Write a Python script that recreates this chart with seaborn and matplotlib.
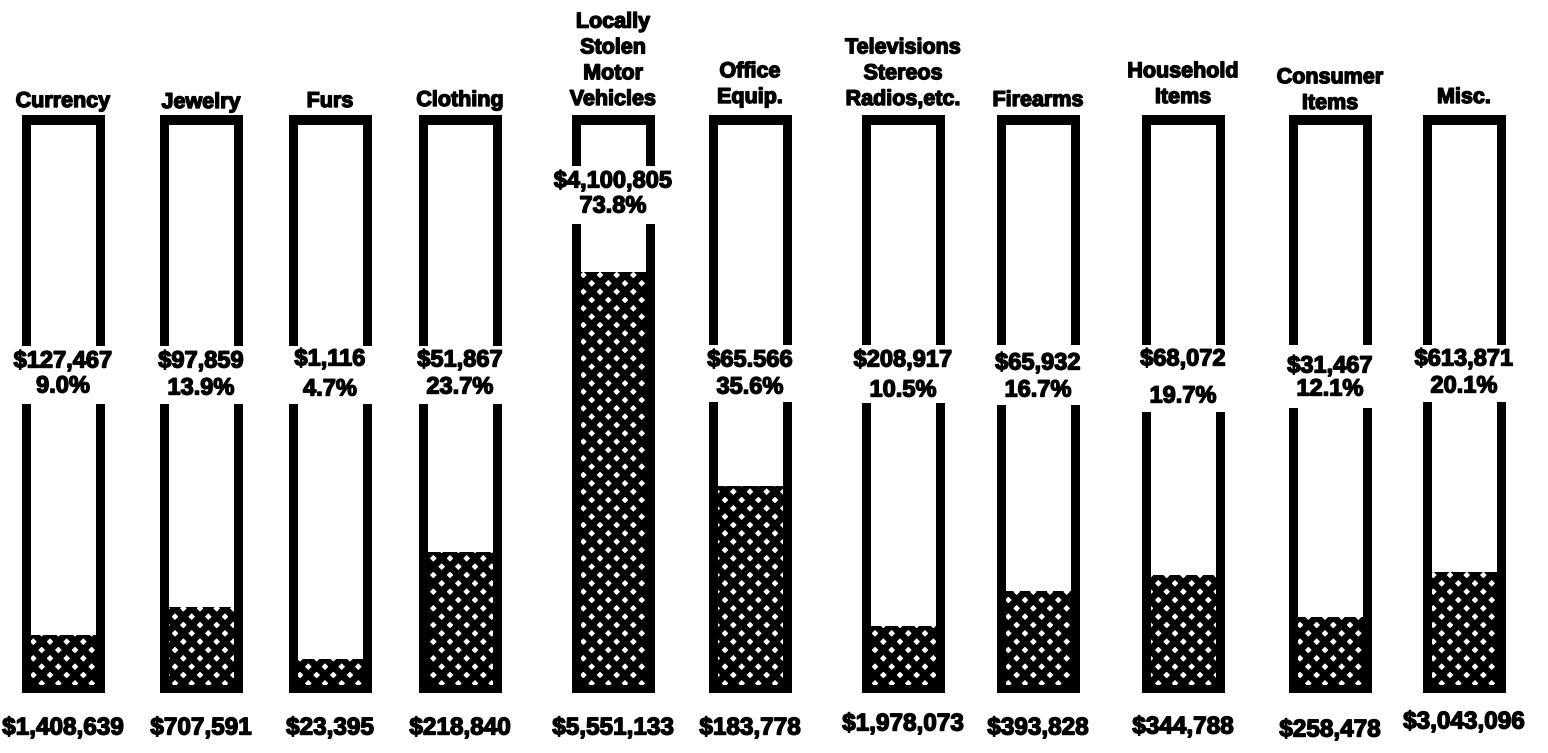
import matplotlib
matplotlib.use("Agg")
import numpy as np
import pandas as pd
import matplotlib.pyplot as plt
import matplotlib.patheffects as pe
import seaborn as sns
from matplotlib.patches import Rectangle

# --- DATA ---
categories = ["Currency", "Jewelry", "Furs", "Clothing",
              "Locally\nStolen\nMotor\nVehicles", "Office\nEquip.",
              "Televisions\nStereos\nRadios,etc.", "Firearms",
              "Household\nItems", "Consumer\nItems", "Misc."]
recovered_pct = [9.0, 13.9, 4.7, 23.7, 73.8, 35.6, 10.5, 16.7, 19.7, 12.1, 20.1]
recovered_amt = ["$127,467", "$97,859", "$1,116", "$51,867", "$4,100,805", "$65.566",
                 "$208,917", "$65,932", "$68,072", "$31,467", "$613,871"]
stolen_amt = ["$1,408,639", "$707,591", "$23,395", "$218,840", "$5,551,133", "$183,778",
              "$1,978,073", "$393,828", "$344,788", "$258,478", "$3,043,096"]

# --- LAYOUT (pixel positions) ---
W, H, DPI = 1548, 753, 100
x_center = [63, 201, 330, 460, 613, 750, 903, 1038, 1183, 1330, 1464]
label_base = [107, 108, 107, 106, 105, 103, 105, 106, 103, 109, 103]
gap_top = [346, 346, 346, 346, 166, 345, 345, 345, 345, 345, 345]
gap_bot = [404, 404, 404, 404, 224, 402, 403, 405, 412, 408, 402]
value_y = [361, 361, 359, 360, 181, 360, 360, 363, 359, 366, 359]
pct_y = [386, 388, 389, 387, 206, 387, 390, 390, 396, 389, 386]
stolen_y = [728, 728, 728, 728, 728, 728, 724, 728, 727, 730, 722]

TOP_OUT, TOP_IN = 115, 125
BOT_IN, BOT_OUT = 685, 693
OUTER_W, WALL = 83, 9
PX_PER_PCT = (BOT_IN - TOP_IN) / 100


def py(px):
    # pixel row -> percent axis
    return (BOT_IN - px) / PX_PER_PCT


sns.set_theme(style="white")
plt.rcParams["font.family"] = ["Liberation Sans", "DejaVu Sans"]
plt.rcParams["hatch.linewidth"] = 5.0

fig = plt.figure(figsize=(W / DPI, H / DPI), dpi=DPI)
ax = fig.add_axes([0, 0, 1, 1])

# recovered share as the hatched fill inside each tube
df = pd.DataFrame({"category": categories, "x": x_center, "pct": recovered_pct})
inner_w = OUTER_W - 2 * WALL
sns.barplot(data=df, x="x", y="pct", native_scale=True, errorbar=None,
            width=inner_w / np.diff(sorted(x_center)).min(),
            color="white", saturation=1, edgecolor="black", linewidth=0,
            hatch="xx", ax=ax)

# tube outlines, broken where the recovered figures sit
for xc, gt, gb in zip(x_center, gap_top, gap_bot):
    left = xc - OUTER_W / 2
    right = xc + OUTER_W / 2
    ax.add_patch(Rectangle((left, py(TOP_IN)), OUTER_W, py(TOP_OUT) - py(TOP_IN),
                           color="black", lw=0))
    ax.add_patch(Rectangle((left, py(BOT_OUT)), OUTER_W, py(BOT_IN) - py(BOT_OUT),
                           color="black", lw=0))
    for wx in (left, right - WALL):
        ax.add_patch(Rectangle((wx, py(gt)), WALL, py(TOP_OUT) - py(gt),
                               color="black", lw=0))
        ax.add_patch(Rectangle((wx, py(BOT_OUT)), WALL, py(gb) - py(BOT_OUT),
                               color="black", lw=0))

# heavy print look
heavy = [pe.withStroke(linewidth=1.0, foreground="black")]
txt = dict(ha="center", fontweight="bold", color="black", path_effects=heavy)
for i, xc in enumerate(x_center):
    ax.text(xc, py(label_base[i] + 5), categories[i], va="bottom",
            fontsize=15.5, linespacing=1.3, **txt)
    ax.text(xc, py(value_y[i]), recovered_amt[i], va="center", fontsize=17, **txt)
    ax.text(xc, py(pct_y[i]), f"{recovered_pct[i]:.1f}%", va="center", fontsize=17, **txt)
    ax.text(xc, py(stolen_y[i]), stolen_amt[i], va="center", fontsize=17.5, **txt)

ax.set_xlim(0, W)
ax.set_ylim(py(H), py(0))
ax.axis("off")

fig.savefig("out.png", dpi=DPI)
